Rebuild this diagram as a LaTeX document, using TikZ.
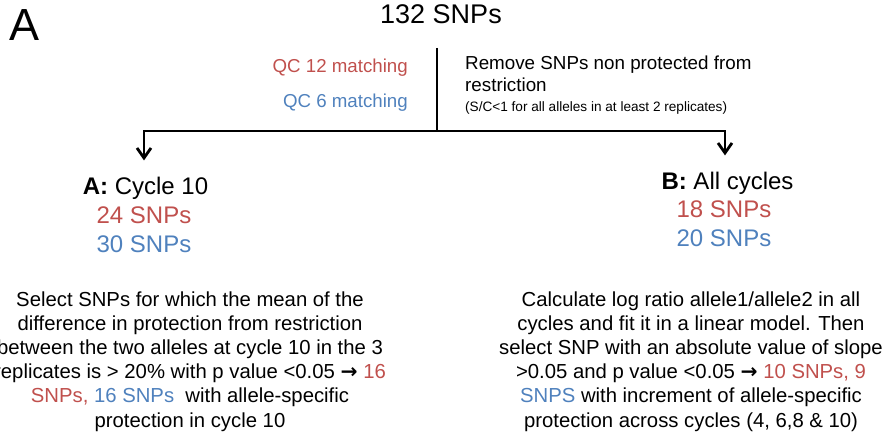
\documentclass[tikz,border=0pt]{standalone}
\usepackage{fontspec}
\setmainfont{Liberation Sans}
\newfontfamily\arrfont{DejaVu Sans}
\usetikzlibrary{arrows.meta}
\definecolor{qred}{HTML}{C0504D}
\definecolor{qblue}{HTML}{4F81BD}
\newcommand{\bigarr}{{\arrfont\bfseries →}}
\begin{document}
\begin{tikzpicture}[x=1pt,y=-1pt,
  txt/.style={inner sep=0pt,anchor=base},
  para/.style={inner sep=0pt,anchor=base,align=center,font=\fontsize{20.3}{24.2}\selectfont},
  conn/.style={line width=2.6pt},
  arr/.style={line width=2.6pt,-{Straight Barb[length=10pt,width=14pt,line width=2.8pt]},shorten >=17pt}]
\useasboundingbox (0,0) rectangle (885,438);
\node[txt,font=\fontsize{45}{50}\selectfont] (lbl) at (25,41) {A};
\node[txt,font=\fontsize{27}{30}\selectfont] (top) at (441,24) {132 SNPs};
\node[txt,anchor=base east,font=\fontsize{18.7}{22}\selectfont,text=qred] (qc12) at (408,73) {QC 12 matching};
\node[txt,anchor=base east,font=\fontsize{18.7}{22}\selectfont,text=qblue] (qc6) at (408,108) {QC 6 matching};
\node[txt,anchor=base west,font=\fontsize{18.8}{22}\selectfont] (rm1) at (465,70) {Remove SNPs non protected from};
\node[txt,anchor=base west,font=\fontsize{18.8}{22}\selectfont] (rm2) at (465,92) {restriction};
\node[txt,anchor=base west,font=\fontsize{13.6}{16}\selectfont] (rm3) at (465,112) {(S/C<1 for all alleles in at least 2 replicates)};
\coordinate (vtop) at (437,48);
\coordinate (join) at (437,131);
\node[txt,font=\fontsize{24}{28}\selectfont] (hA) at (145.5,195) {\textbf{A:} Cycle 10};
\node[txt,font=\fontsize{24}{28}\selectfont,text=qred] (a24) at (144,223) {24 SNPs};
\node[txt,font=\fontsize{24}{28}\selectfont,text=qblue] (a30) at (144,252) {30 SNPs};
\node[txt,font=\fontsize{24}{28}\selectfont] (hB) at (727.5,190) {\textbf{B:} All cycles};
\node[txt,font=\fontsize{24}{28}\selectfont,text=qred] (b18) at (724,218) {18 SNPs};
\node[txt,font=\fontsize{24}{28}\selectfont,text=qblue] (b20) at (724,247) {20 SNPs};
\node[para] (pA) at (190,427) {Select SNPs for which the mean of the\\
difference in protection from restriction\\
between the two alleles at cycle 10 in the 3\\
replicates is > 20\% with p value <0.05 \bigarr{} \textcolor{qred}{16}\\
\textcolor{qred}{SNPs,} \textcolor{qblue}{16 SNPs}\ \ with allele-specific\\
protection in cycle 10};
\node[para] (pB) at (691,427) {Calculate log ratio allele1/allele2 in all\\
cycles and fit it in a linear model. Then\\
select SNP with an absolute value of slope\\
>0.05 and p value <0.05 \bigarr{} \textcolor{qred}{10 SNPs, 9}\\
\textcolor{qblue}{SNPS} with increment of allele-specific\\
protection across cycles (4, 6,8 \& 10)};
\draw[conn] (vtop) -- (join);
\draw[arr] (join) -| (hA.north -| 144,0);
\draw[arr] (join) -| (hB.north -| 725,0);
\end{tikzpicture}
\end{document}
